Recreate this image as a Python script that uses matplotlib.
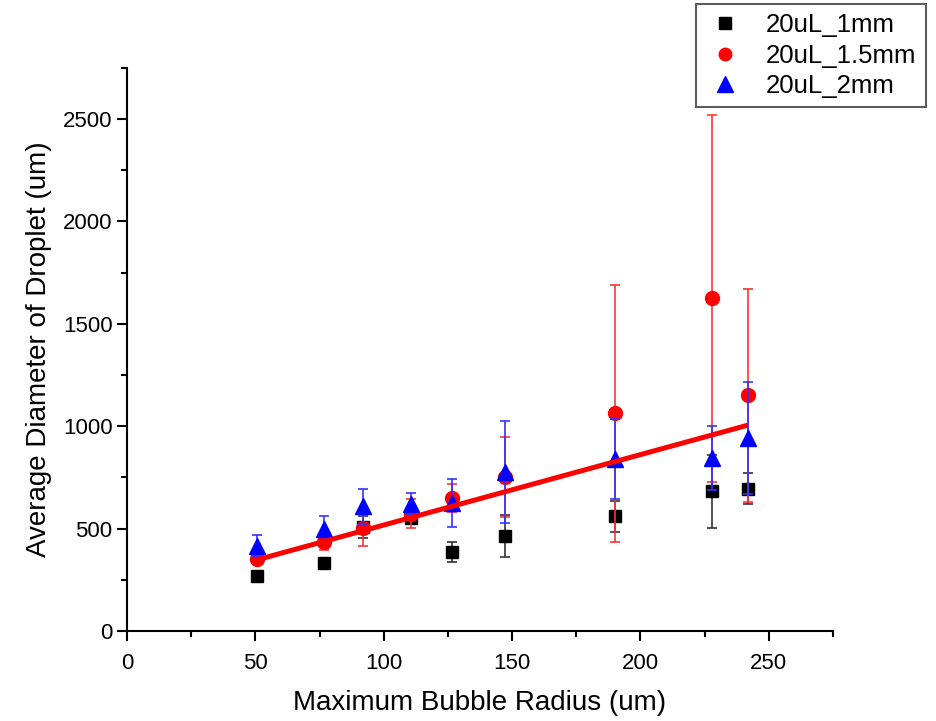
import matplotlib
matplotlib.use("Agg")
import matplotlib.pyplot as plt
from matplotlib.ticker import MultipleLocator
from matplotlib.lines import Line2D

plt.rcParams['font.family'] = ['Liberation Sans', 'DejaVu Sans']

# Data
radius = [50.7, 76.7, 92.0, 110.8, 126.7, 147.1, 190.0, 227.9, 241.7]
d_1mm = [268, 330, 508, 552, 386, 463, 560, 682, 695]
e_1mm = [10, 10, 53, 20, 50, 102, 75, 177, 77]
d_15mm = [354, 435, 503, 573, 651, 752, 1063, 1625, 1152]
e_15mm = [20, 37, 88, 70, 69, 197, 627, 897, 520]
d_2mm = [416, 500, 609, 622, 625, 776, 841, 844, 943]
e_2mm = [55, 62, 86, 52, 115, 250, 195, 155, 272]
fit_x = [50.7, 241.7]
fit_y = [348, 1005]

labels = ['20uL_1mm', '20uL_1.5mm', '20uL_2mm']

fig = plt.figure(figsize=(9.36, 7.21), dpi=100)
ax = fig.add_axes([0.1357, 0.1248, 0.7543, 0.781])

ax.errorbar(radius, d_1mm, yerr=e_1mm, fmt='s', color='black', ecolor='#333333',
            markersize=9, elinewidth=1.2, capsize=3.5, capthick=1.2, zorder=3)
ax.errorbar(radius, d_15mm, yerr=e_15mm, fmt='o', color='#ff0000', ecolor='#ff3333',
            markersize=10, elinewidth=1.2, capsize=3.5, capthick=1.2, zorder=4)
ax.errorbar(radius, d_2mm, yerr=e_2mm, fmt='^', color='#0000ff', ecolor='#3333ff',
            markersize=11, elinewidth=1.2, capsize=3.5, capthick=1.2, zorder=5)
ax.plot(fit_x, fit_y, color='#ff0000', linewidth=3.6, zorder=6, solid_capstyle='butt')

ax.set_xlim(0, 275)
ax.set_ylim(0, 2750)
ax.xaxis.set_major_locator(MultipleLocator(50))
ax.xaxis.set_minor_locator(MultipleLocator(25))
ax.yaxis.set_major_locator(MultipleLocator(500))
ax.yaxis.set_minor_locator(MultipleLocator(250))

for s in ['top', 'right']:
    ax.spines[s].set_visible(False)
for s in ['left', 'bottom']:
    ax.spines[s].set_linewidth(1.5)

ax.tick_params(which='major', direction='out', length=7, width=1.5, labelsize=16)
ax.tick_params(axis='x', which='major', pad=9)
ax.tick_params(which='minor', direction='out', length=4.5, width=1.5)

ax.set_xlabel('Maximum Bubble Radius (um)', fontsize=20, labelpad=11)
ax.set_ylabel('Average Diameter of Droplet (um)', fontsize=20, labelpad=8)

handles = [
    Line2D([], [], linestyle='none', marker='s', color='black', markersize=8),
    Line2D([], [], linestyle='none', marker='o', color='#ff0000', markersize=9),
    Line2D([], [], linestyle='none', marker='^', color='#0000ff', markersize=11),
]
leg = fig.legend(handles=handles, labels=labels, loc='upper right',
                 bbox_to_anchor=(0.989, 0.994), fontsize=18.5, frameon=True, fancybox=False,
                 edgecolor='#333333', handletextpad=0.8, borderpad=0.35, labelspacing=0.25,
                 handlelength=1.6, borderaxespad=0)
leg.get_frame().set_linewidth(1.5)

fig.savefig('out.png', dpi=100)
